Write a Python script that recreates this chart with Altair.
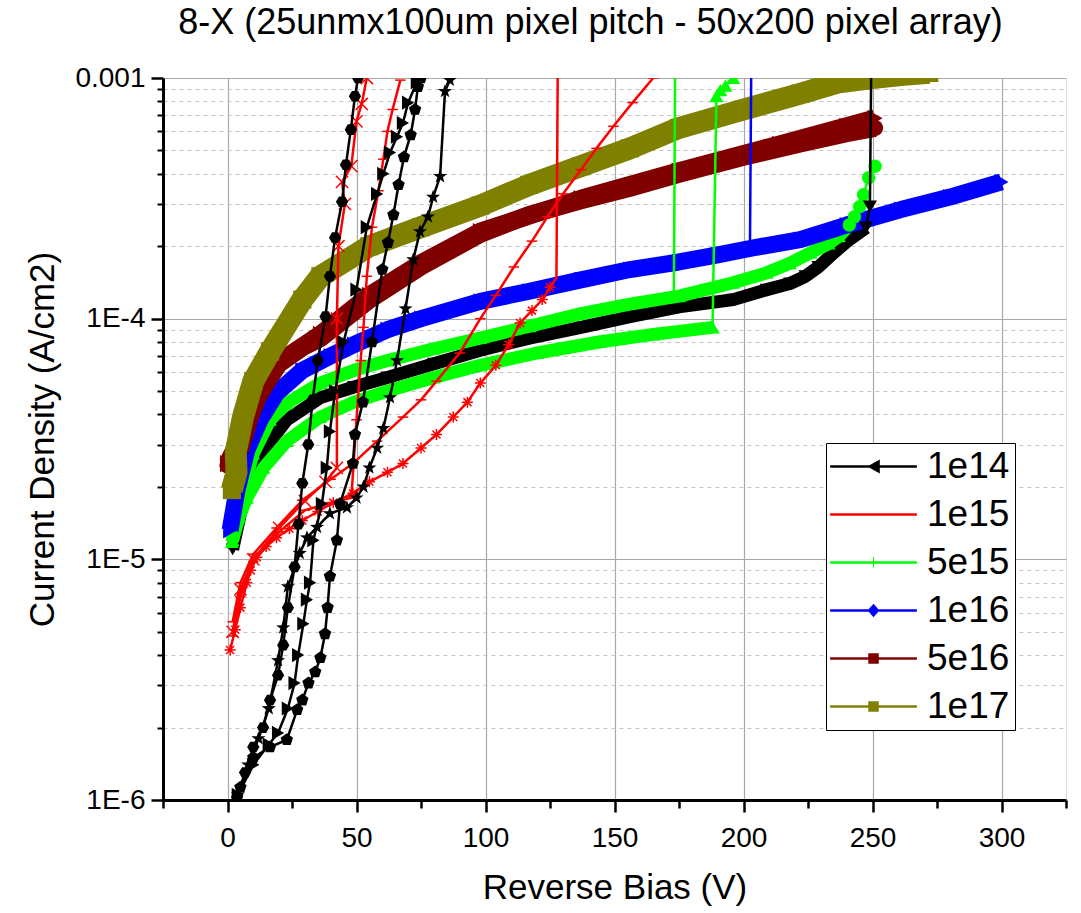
import altair as alt
import pandas as pd

SERIES = ["1e14", "1e15", "5e15", "1e16", "5e16", "1e17"]
COLORS = ["#000000", "#ff0000", "#00ff00", "#0000ff", "#800000", "#808000"]

X_MAJOR = [0, 50, 100, 150, 200, 250, 300]
X_MINOR = [-25, 25, 75, 125, 175, 225, 275, 325]
Y_MAJOR = [1e-6, 1e-5, 1e-4, 1e-3]
Y_MINOR = [k * 10.0 ** e for e in (-6, -5, -4) for k in range(2, 10)]

# ---------------- curve data (V in volts, J in A/cm2) ----------------
K_MAIN_V = [2, 5, 10, 14, 23, 36, 49, 62, 80, 98, 117, 137, 156, 175, 196, 209, 218, 224, 229, 235, 241, 247.5]
K_MAIN_J = [1.1e-5, 1.55e-5, 2.3e-5, 2.85e-5, 3.8e-5, 4.7e-5, 5.2e-5, 5.7e-5, 6.5e-5, 7.4e-5, 8.3e-5, 9.2e-5,
            1.02e-4, 1.12e-4, 1.2e-4, 1.32e-4, 1.4e-4, 1.5e-4, 1.64e-4, 1.88e-4, 2.13e-4, 2.39e-4]
K_MAIN_BD_V = [247.5, 249, 249.5]
K_MAIN_BD_J = [2.39e-4, 2.92e-4, 1.1e-3]

G_LOW_V = [2, 4.5, 7.5, 14, 23, 36, 49, 62, 80, 98, 120, 144, 165, 188]
G_LOW_J = [1.2e-5, 1.5e-5, 1.8e-5, 2.4e-5, 3.1e-5, 3.9e-5, 4.5e-5, 5.0e-5, 5.7e-5, 6.4e-5, 7.2e-5, 8.0e-5, 8.6e-5, 9.2e-5]
G_LOW_BD_V = [188, 189.5, 191, 193, 196]
G_LOW_BD_J = [9.2e-5, 8.4e-4, 8.9e-4, 9.3e-4, 1.0e-3]

G_UP_V = [1.7, 5, 10, 16.5, 23, 36, 49, 62, 80, 98, 117, 137, 156, 175, 196, 209, 218, 226, 233, 237, 241]
G_UP_J = [1.18e-5, 1.8e-5, 2.75e-5, 3.8e-5, 4.45e-5, 5.4e-5, 6.1e-5, 6.7e-5, 7.5e-5, 8.3e-5, 9.3e-5, 1.05e-4,
          1.15e-4, 1.24e-4, 1.41e-4, 1.55e-4, 1.7e-4, 1.88e-4, 2.05e-4, 2.2e-4, 2.45e-4]
G_END_V = [241, 243, 245, 246.5, 248.5, 251]
G_END_J = [2.45e-4, 2.65e-4, 2.92e-4, 3.27e-4, 3.85e-4, 4.3e-4]
G_VERT_V = [156, 170, 173, 173.5]
G_VERT_J = [1.15e-4, 1.22e-4, 1.26e-4, 1.1e-3]

B_MAIN_V = [1, 3.7, 7.5, 12.6, 19, 29, 40, 49, 62, 75, 98, 117, 137, 156, 175, 190, 205, 222, 240, 261, 280, 300]
B_MAIN_J = [1.32e-5, 1.94e-5, 2.84e-5, 3.8e-5, 4.9e-5, 6.1e-5, 7.0e-5, 7.8e-5, 9.0e-5, 1.0e-4, 1.18e-4, 1.3e-4,
            1.45e-4, 1.6e-4, 1.72e-4, 1.84e-4, 1.98e-4, 2.13e-4, 2.45e-4, 2.84e-4, 3.2e-4, 3.7e-4]
B_VERT_V = [190, 202.5, 203]
B_VERT_J = [1.84e-4, 1.96e-4, 1.1e-3]

DR_CIRC_V = [0, 5, 8.7, 12.6, 20, 29, 36, 55, 75, 98, 117, 137, 156, 175, 200, 222, 240, 251]
DR_CIRC_J = [2.45e-5, 2.9e-5, 3.9e-5, 5.0e-5, 6.5e-5, 7.6e-5, 8.3e-5, 1.2e-4, 1.65e-4, 2.25e-4, 2.7e-4, 3.1e-4,
             3.5e-4, 4.0e-4, 4.7e-4, 5.35e-4, 5.9e-4, 6.2e-4]
DR_TRI_V = [0, 5, 10, 20, 36, 55, 75, 98, 137, 175, 214, 240, 251]
DR_TRI_J = [2.5e-5, 3.2e-5, 4.4e-5, 6.6e-5, 8.6e-5, 1.25e-4, 1.7e-4, 2.3e-4, 3.15e-4, 4.1e-4, 5.3e-4, 6.3e-4, 6.8e-4]

OL_V = [1.7, 3.5, 3.2, 6, 10, 16.5, 29, 36, 55, 75, 98, 117, 137, 156, 175, 200, 222, 237, 250, 262, 272]
OL_J = [1.94e-5, 2.3e-5, 2.8e-5, 3.9e-5, 5.5e-5, 7.3e-5, 1.2e-4, 1.5e-4, 2.0e-4, 2.4e-4, 2.95e-4, 3.6e-4, 4.3e-4,
        5.1e-4, 6.2e-4, 7.4e-4, 8.6e-4, 9.6e-4, 1.0e-3, 1.03e-3, 1.05e-3]

R_AST_V = [1, 3, 5, 7.5, 9, 11.4, 15, 19, 24, 29, 35, 41, 48.6, 55, 62, 68, 75, 81, 87.5, 93, 98, 104, 109, 113.4,
           118, 122, 125]
R_AST_J = [4.2e-6, 5.1e-6, 6.3e-6, 8e-6, 9e-6, 1.02e-5, 1.13e-5, 1.23e-5, 1.34e-5, 1.45e-5, 1.58e-5, 1.72e-5,
           1.88e-5, 2.1e-5, 2.3e-5, 2.5e-5, 2.9e-5, 3.3e-5, 3.9e-5, 4.5e-5, 5.4e-5, 6.4e-5, 7.8e-5, 9.6e-5,
           1.08e-4, 1.2e-4, 1.35e-4]
R_AST_BD_V = [125, 127.5, 128]
R_AST_BD_J = [1.35e-4, 1.48e-4, 1.1e-3]

R_DASH_V = [2, 5, 10, 19, 29, 40, 48.6, 58, 68, 75, 81, 90, 98, 104, 111, 118, 124, 130, 137, 143, 149.6, 157, 165]
R_DASH_J = [5.5e-6, 8e-6, 1.05e-5, 1.35e-5, 1.76e-5, 2.15e-5, 2.5e-5, 3.1e-5, 3.9e-5, 4.6e-5, 5.5e-5, 7.2e-5,
            1.0e-4, 1.25e-4, 1.64e-4, 2.1e-4, 2.65e-4, 3.3e-4, 4.16e-4, 5.1e-4, 6.3e-4, 7.9e-4, 1.0e-3]

R_X_V = [2, 5, 10, 20, 30, 38, 42.4, 42.4, 43, 45.5, 44.4, 48, 50, 52, 54]
R_X_J = [5e-6, 7.5e-6, 1.0e-5, 1.35e-5, 1.75e-5, 2.1e-5, 2.4e-5, 1.0e-4, 2.0e-4, 3.0e-4, 3.7e-4, 4.3e-4, 6.6e-4,
         7.8e-4, 1.0e-3]

R_DASH2_V = [2, 5, 10, 20, 30, 40, 48, 50, 51.6, 52.7, 54, 56, 58.5, 60.4, 62, 64, 67]
R_DASH2_J = [4.8e-6, 7e-6, 9.8e-6, 1.3e-5, 1.6e-5, 1.72e-5, 1.8e-5, 3.8e-5, 6.7e-5, 9.2e-5, 1.5e-4, 2.4e-4,
             3.4e-4, 4.6e-4, 6.0e-4, 7.4e-4, 9.8e-4]

K_HEX_V = [3.7, 6.8, 10, 13.8, 16.5, 19.6, 21.6, 23.4, 26, 27.5, 29, 31.3, 33, 35, 38, 39.7, 41.7, 44.4, 45.9,
           47.8, 49.4, 50.6]
K_HEX_J = [1.03e-6, 1.3e-6, 1.66e-6, 2.0e-6, 2.6e-6, 3.3e-6, 4.4e-6, 6.3e-6, 9.3e-6, 1.4e-5, 2.07e-5, 3.0e-5,
           4.6e-5, 6.7e-5, 1.02e-4, 1.5e-4, 2.17e-4, 3.06e-4, 4.36e-4, 6.1e-4, 8.4e-4, 1.0e-3]

K_TRI_V = [4, 10, 16, 19.6, 23.4, 26, 27.4, 29.4, 30.8, 32, 33.3, 36.6, 38.5, 39.7, 41.7, 45, 50, 54, 58, 60.4,
           63, 65.7, 68, 70, 73.4]
K_TRI_J = [1.05e-6, 1.4e-6, 1.7e-6, 1.9e-6, 2.4e-6, 3.06e-6, 4.0e-6, 5.4e-6, 6.8e-6, 8e-6, 1.2e-5, 1.7e-5,
           2.4e-5, 3.4e-5, 5.0e-5, 8.0e-5, 1.32e-4, 2.4e-4, 3.3e-4, 4.0e-4, 4.9e-4, 5.7e-4, 6.5e-4, 7.9e-4, 9.6e-4]

K_PENT_V = [5, 10, 16.5, 23, 27, 29, 31.4, 34, 36, 37.8, 38.8, 39.7, 42.4, 43.6, 48.6, 49.4, 52.5, 56, 60, 62.2,
            64.3, 66.3, 68.4, 71, 72.7, 73.8, 75]
K_PENT_J = [1.13e-6, 1.5e-6, 1.66e-6, 1.78e-6, 2.37e-6, 2.6e-6, 3.06e-6, 3.4e-6, 3.9e-6, 4.9e-6, 6.3e-6, 8.5e-6,
            1.2e-5, 1.7e-5, 2.5e-5, 3.3e-5, 4.5e-5, 8.0e-5, 1.6e-4, 2.07e-4, 2.7e-4, 3.6e-4, 4.7e-4, 5.8e-4,
            7.4e-4, 9.2e-4, 1.0e-3]

K_STAR_V = [4, 8, 12, 16, 19.6, 21.6, 23.4, 28, 30.8, 34.7, 39.7, 46.3, 50, 52.7, 55, 58, 60.4, 63, 65.7, 69,
            72, 74.6, 77.7, 79.7, 82.4, 84.3, 86.2]
K_STAR_J = [1.05e-6, 1.4e-6, 1.8e-6, 2.4e-6, 3.8e-6, 5.2e-6, 7.7e-6, 1.06e-5, 1.23e-5, 1.36e-5, 1.55e-5, 1.64e-5,
            1.8e-5, 2.0e-5, 2.4e-5, 2.9e-5, 3.5e-5, 4.7e-5, 6.7e-5, 1.1e-4, 1.76e-4, 2.3e-4, 2.65e-4, 3.2e-4,
            3.9e-4, 8.8e-4, 9.8e-4]

# ---------------- marker shapes / styles ----------------
HEX = "M-1,0L-0.5,-0.87L0.5,-0.87L1,0L0.5,0.87L-0.5,0.87Z"
PENT = "M0,-1L0.95,-0.31L0.59,0.81L-0.59,0.81L-0.95,-0.31Z"
STAR = ("M0,-1L0.24,-0.32L0.95,-0.31L0.38,0.12L0.59,0.81L0,0.4L-0.59,0.81"
        "L-0.38,0.12L-0.95,-0.31L-0.24,-0.32Z")
XMARK = "M-1,-1L1,1M-1,1L1,-1"
AST = "M-0.8,-0.8L0.8,0.8M-0.8,0.8L0.8,-0.8M0,-1.1L0,1.1M-1.1,0L1.1,0"

STYLES = {
    "k_band": dict(lw=13, shape="triangle-down", size=190, filled=True),
    "g_band": dict(lw=13, shape="triangle-up", size=190, filled=True),
    "b_band": dict(lw=17, shape="triangle-right", size=260, filled=True),
    "dr_circ": dict(lw=18, shape="circle", size=260, filled=True),
    "dr_tri": dict(lw=18, shape="triangle-right", size=300, filled=True),
    "ol_band": dict(lw=22, shape="square", size=330, filled=True),
    "bd_tri_down": dict(lw=2.5, shape="triangle-down", size=200, filled=True),
    "bd_tri_up": dict(lw=2.5, shape="triangle-up", size=200, filled=True),
    "g_circ": dict(lw=2.5, shape="circle", size=180, filled=True),
    "thin": dict(lw=2.5, shape=None),
    "r_ast": dict(lw=2.5, shape=AST, size=100, filled=False, sw=1.5),
    "r_dash": dict(lw=2.5, shape="stroke", size=110, filled=False, sw=1.5),
    "r_x": dict(lw=2.5, shape=XMARK, size=150, filled=False, sw=1.5),
    "k_hex": dict(lw=2.5, shape=HEX, size=150, filled=True),
    "k_tri": dict(lw=2.5, shape="triangle-right", size=200, filled=True),
    "k_pent": dict(lw=2.5, shape=PENT, size=170, filled=True),
    "k_star": dict(lw=2.5, shape=STAR, size=220, filled=True),
}

CURVES = [
    ("c01", "1e14", K_MAIN_V, K_MAIN_J, "k_band"),
    ("c02", "5e15", G_LOW_V, G_LOW_J, "g_band"),
    ("c03", "5e15", G_UP_V, G_UP_J, "g_band"),
    ("c04", "1e16", B_MAIN_V, B_MAIN_J, "b_band"),
    ("c05", "5e16", DR_CIRC_V, DR_CIRC_J, "dr_circ"),
    ("c06", "5e16", DR_TRI_V, DR_TRI_J, "dr_tri"),
    ("c07", "1e17", OL_V, OL_J, "ol_band"),
    ("c08", "5e15", G_END_V, G_END_J, "g_circ"),
    ("c09", "1e14", K_MAIN_BD_V, K_MAIN_BD_J, "bd_tri_down"),
    ("c10", "5e15", G_LOW_BD_V, G_LOW_BD_J, "bd_tri_up"),
    ("c11", "5e15", G_VERT_V, G_VERT_J, "thin"),
    ("c12", "1e16", B_VERT_V, B_VERT_J, "thin"),
    ("c13", "1e15", R_AST_V, R_AST_J, "r_ast"),
    ("c14", "1e15", R_AST_BD_V, R_AST_BD_J, "thin"),
    ("c15", "1e15", R_DASH_V, R_DASH_J, "r_dash"),
    ("c16", "1e15", R_X_V, R_X_J, "r_x"),
    ("c17", "1e15", R_DASH2_V, R_DASH2_J, "r_dash"),
    ("c18", "1e14", K_HEX_V, K_HEX_J, "k_hex"),
    ("c19", "1e14", K_TRI_V, K_TRI_J, "k_tri"),
    ("c20", "1e14", K_PENT_V, K_PENT_J, "k_pent"),
    ("c21", "1e14", K_STAR_V, K_STAR_J, "k_star"),
]

rows = []
for name, series, vs, js, _ in CURVES:
    for i, (v, j) in enumerate(zip(vs, js)):
        rows.append({"curve": name, "series": series, "idx": i, "V": v, "J": j})
df = pd.DataFrame(rows)

FONT = "Liberation Sans"
xscale = alt.Scale(domain=[-25, 325], nice=False, zero=False)
yscale = alt.Scale(type="log", domain=[1e-6, 1e-3], nice=False)
cscale = alt.Scale(domain=SERIES, range=COLORS)

x_enc = alt.X("V:Q", scale=xscale, axis=None)
y_enc = alt.Y("J:Q", scale=yscale, axis=None)
c_enc = alt.Color("series:N", scale=cscale, legend=None)

layers = []

# legend layer first (no visible data) so its legend settings win the merge
LINE = "M-6.2,-0.17H6.2V0.17H-6.2Z"
LEG_SHAPES = [
    LINE + "M-0.9,0L0.9,-1L0.9,1Z",
    LINE,
    LINE + "M-0.08,-0.75H0.08V0.75H-0.08Z",
    LINE + "M0,-0.95L0.85,0L0,0.95L-0.85,0Z",
    LINE + "M-0.75,-0.75H0.75V0.75H-0.75Z",
    LINE + "M-0.75,-0.75H0.75V0.75H-0.75Z",
]
leg = alt.Legend(title=None, orient="none", legendX=663, legendY=365, labelFontSize=37, labelFont=FONT,
                 labelColor="black", symbolSize=196, symbolOffset=24, labelOffset=35, rowPadding=10,
                 padding=5, strokeColor="black", fillColor="white", symbolStrokeWidth=0, cornerRadius=0)
layers.append(
    alt.Chart().transform_filter("false").mark_point(filled=True, opacity=1, size=196).encode(
        x=x_enc, y=y_enc,
        color=alt.Color("series:N", scale=cscale, legend=leg),
        shape=alt.Shape("series:N", scale=alt.Scale(domain=SERIES, range=LEG_SHAPES), legend=leg),
    )
)

# axes (main + minor)
layers.append(
    alt.Chart().mark_point(opacity=0).encode(
        x=alt.X("V:Q", scale=xscale, axis=alt.Axis(
            values=X_MAJOR, orient="bottom", title="Reverse Bias (V)", grid=True,
            gridColor="#a8a8a8", gridWidth=1.2, tickSize=12, tickWidth=2.5, tickColor="black",
            domainColor="black", domainWidth=3, labelFontSize=28, labelFont=FONT, labelColor="black",
            labelPadding=12, titleFontSize=35, titleFont=FONT, titleFontWeight="normal",
            titleColor="black", titlePadding=18, labelFlush=False)),
        y=alt.Y("J:Q", scale=yscale, axis=alt.Axis(
            values=Y_MAJOR, orient="left", title="Current Density (A/cm2)", grid=True,
            gridColor="#a8a8a8", gridWidth=1.2, tickSize=12, tickWidth=2.5, tickColor="black",
            domainColor="black", domainWidth=3, labelFontSize=28, labelFont=FONT, labelColor="black",
            labelPadding=6, titleFontSize=35, titleFont=FONT, titleFontWeight="normal",
            titleColor="black", titlePadding=14, labelFlush=False,
            labelExpr="datum.value > 0.0005 ? '0.001' : '1E-' + round(-log(datum.value)/LN10)")),
    )
)
layers.append(
    alt.Chart().mark_point(opacity=0).encode(
        x=alt.X("V:Q", scale=xscale, axis=alt.Axis(
            values=X_MINOR, orient="bottom", title=None, labels=False, grid=False, domain=False,
            tickSize=8, tickWidth=2.5, tickColor="black")),
        y=alt.Y("J:Q", scale=yscale, axis=alt.Axis(
            values=Y_MINOR, orient="left", title=None, labels=False, grid=True, gridDash=[4, 4],
            gridColor="#c4c4c4", gridWidth=1, domain=False, tickSize=6, tickWidth=2, tickColor="black")),
    )
)

for name, series, _, _, style in CURVES:
    st = STYLES[style]
    base = alt.Chart().transform_filter(alt.datum.curve == name)
    layers.append(
        base.mark_line(strokeWidth=st["lw"], clip=True, strokeJoin="round").encode(
            x=x_enc, y=y_enc, color=c_enc, order=alt.Order("idx:Q"))
    )
    if st.get("shape"):
        layers.append(
            base.mark_point(shape=st["shape"], size=st["size"], filled=st["filled"], opacity=1,
                            strokeWidth=st.get("sw", 1), clip=True).encode(
                x=x_enc, y=y_enc, color=c_enc)
        )

chart = alt.layer(*layers, data=df).resolve_axis(x="independent", y="independent").properties(
    width=903, height=722,
    padding={"left": 163, "top": 78, "right": 15, "bottom": 113},
    autosize="none",
    title=alt.TitleParams("8-X (25unmx100um pixel pitch - 50x200 pixel array)", fontSize=36, font=FONT,
                          fontWeight="normal", color="black", anchor="middle", frame="group", dx=-24,
                          offset=22),
).configure_view(stroke=None).configure(background="white")

chart.save("out.html", embed_options={"renderer": "svg", "actions": False})
